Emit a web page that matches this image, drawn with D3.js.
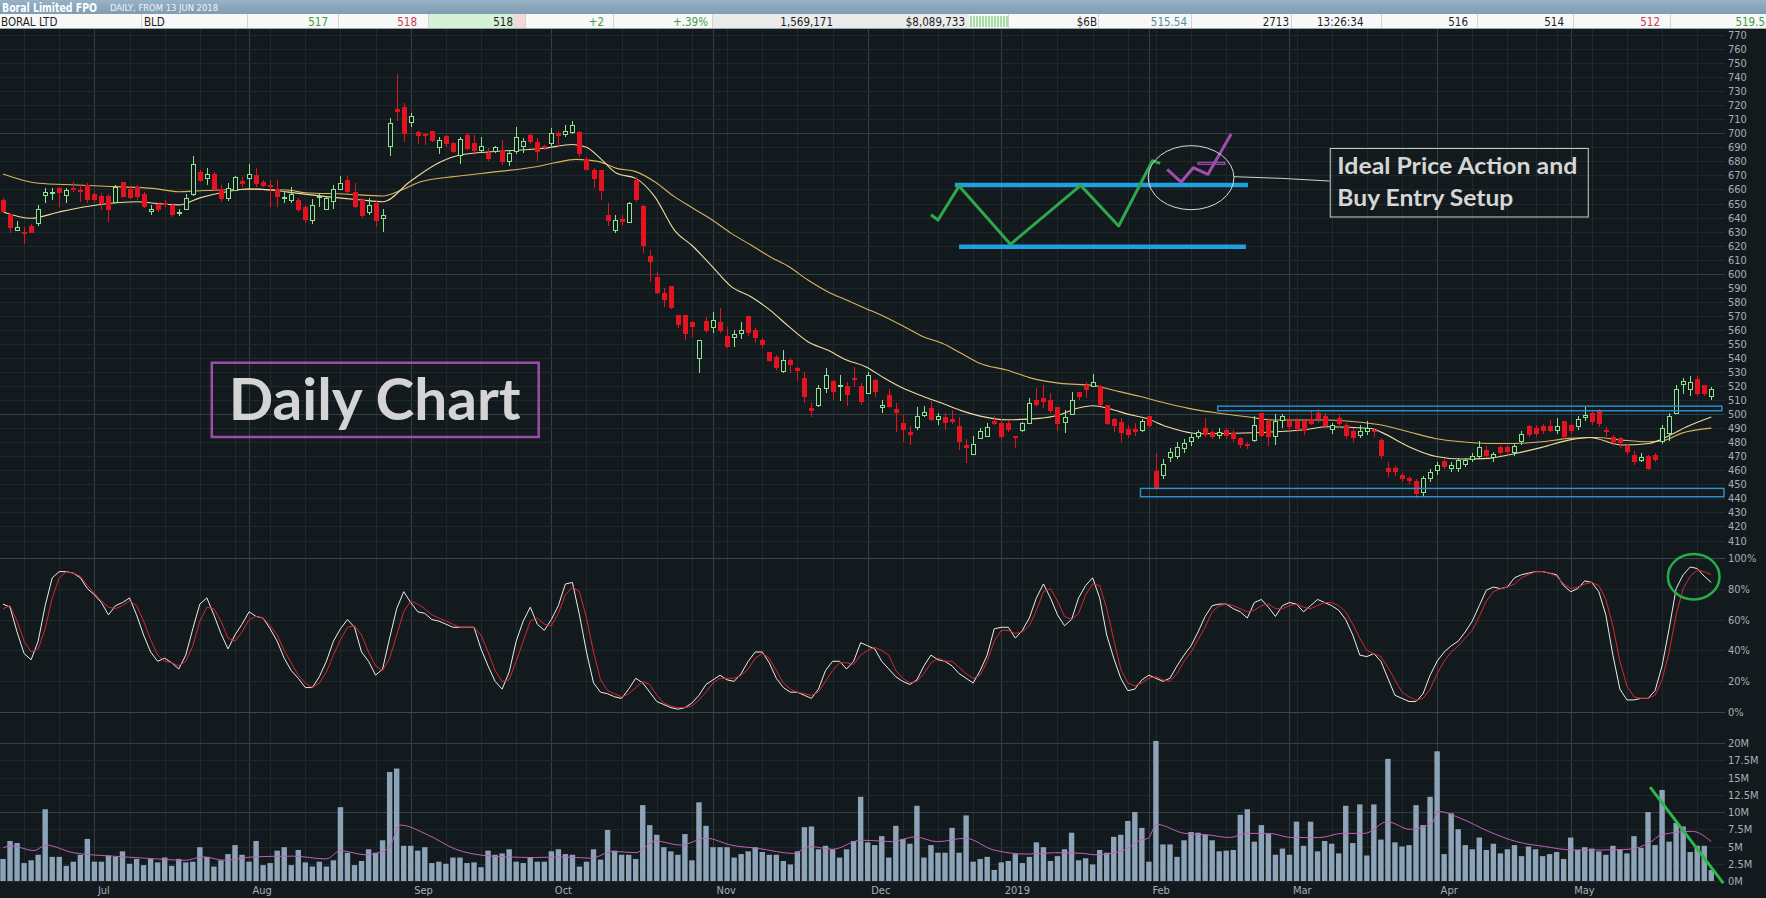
<!DOCTYPE html>
<html>
<head>
<meta charset="utf-8">
<script src="https://cdn.jsdelivr.net/npm/d3@7"></script>
<style>
  body { margin: 0; background: #131a1d; overflow: hidden; }
  svg { display: block; }
  .narrow { font-family: "Liberation Sans Narrow", "DejaVu Sans Condensed", "Roboto", sans-serif; }
</style>
</head>
<body>
<div id="main"></div>
<script>
// ---- data (bar index 0 = 13 Jun 2018, one bar per trading day) ----
const opens = [
652,642,631,629.5,633.5,636,656,657,660.6,655.6,
661,659.1,663,656.5,655.3,655.3,650.6,665.1,660.1,661.5,
656.7,644.2,649.4,650,648.4,643,645.8,656.5,671.9,667.9,
670.8,660.3,653.7,659.6,665.5,668,670,665.1,663,660.1,
653.9,651.8,652,647.2,638.2,654.4,645.8,651.3,660.1,666.7,
657.7,651.8,643.5,650.1,639.4,690.5,717,718.2,707.6,700.4,
698.8,701.1,689.7,697.6,692.4,684.5,698.1,692.8,688.1,685.7,
686.9,688.1,679.8,686.9,690.5,698.1,693.3,690.5,692.8,700,
698.8,700.4,700.9,681.4,673.8,673.4,641.8,630.6,638.7,636.3,
666.3,648.2,612.1,597.4,586,590.8,569.9,569.9,565.1,539.7,
565.8,561.8,565.1,555.6,554.7,557.1,569.4,559.9,552.3,543.7,
540.4,530.2,538.5,532.6,525.5,504.1,505.8,518.3,523.1,519.5,
520,525.5,520,514.8,523.8,504.8,513.6,503,493.4,486.8,
490.5,499,504.1,496.3,497.7,496.3,491.5,477.3,471.6,482.7,
483.9,494.6,493.4,493,484,488.2,493.4,510,511.2,510,
504.8,493.9,500,515.2,520.4,520,519.5,505.8,496.3,493.9,
489.1,489,488.6,498,459,456.6,469.2,470.1,475.6,480.4,
484.4,489.8,486.7,484.9,488.6,486.3,482.7,478.5,481.5,500.5,
494.6,484.4,495.3,494.6,494.6,494.6,496.2,500.5,498,489.1,
497,492.2,487.5,485.1,487.5,488.6,481.5,461.3,461.3,456.6,
454.2,451.8,444,454.2,459.7,466,461.3,461.3,464.4,467.8,
469.7,474.4,469.2,476.3,476,472.9,480.4,491,489.8,491.5,
491.5,488.2,494.6,492.2,491,497.7,500.5,501.7,488.6,483.4,
482.5,477.2,470.8,467.3,470.1,470.8,480.4,486.3,500.5,520.8,
517.6,524.7,520.7,512.9
];
const highs = [
653.7,642.5,637.8,633.5,635.4,648.9,660.8,660.8,662,660.8,
665.5,663.2,664.8,657.7,657.2,656.7,663.2,665.5,662,663.2,
658.4,648.9,650.6,652.5,650.1,645.8,656.7,683.8,673.8,675,
672.7,663.2,664.3,669.6,669.1,677.9,675,666.7,666.4,666.4,
658.4,661.5,653.7,648.9,652.9,657.2,655.3,663.2,669.6,669.6,
664.8,653.7,653.7,651.8,645.8,710.6,742.2,721.8,714.7,701.6,
700,701.9,697.6,698.8,694,697.6,700.4,698.8,697.1,689.3,
690.9,695.2,688.1,704.2,696.4,700.4,696.4,691.7,703.5,701.9,
705.9,708.7,701.6,682.9,675,673.8,650.1,641.8,641.8,651.3,
668.6,648.9,616.9,601.4,589.6,591.2,570.6,570.6,566.3,552.8,
569.4,573,575.3,562.3,559.9,565.8,569.9,561.1,554,543.7,
542.1,545.6,539.7,533.8,530.2,508.8,520.7,532.6,524.3,527.8,
523.1,533.8,521.9,530.2,524.8,510,517.6,507.6,499.3,491.5,
505.3,505.8,509.6,500.5,500.5,502.9,498.2,482,484.4,489.9,
493.4,498.6,496.3,495.8,484.4,494.6,511.2,518.3,520.7,514.8,
505.3,502.9,516,515.9,523.1,528.5,520.7,506.5,497,497,
492.2,493.4,496.3,499,472,468,476,480,482,486,
489,497,489,490,490,489,484,480,499,501,
497,500,500,499,497,496,502,504,501,494,
500,494,490,492,495,490,483,466,463,458,
456,454,456,461,466,468,466,469,469,472,
481,477,473,478,478,479,488,492,492,493,
496,497,495,494,499,505,502,504,491,485,
484,479,474,472,471,472,492,501,521,526,
527,527,521,519.5
];
const lows = [
643,629.2,630.5,621.1,628.7,634,650.1,652.5,647.7,650.6,
657.9,651.3,650.6,651.3,645.4,637.1,650.1,654.4,652.9,652.5,
646.5,641.8,644.2,647.7,640.6,641.1,645.4,655.3,665.5,663.2,
659.1,651.3,652,659.1,662,660.8,662,661.5,647.7,647.7,
650.1,650.6,644.2,635.9,635.4,647.7,645.4,645.8,659.6,656.7,
646.5,639.4,641.8,633,629.9,683.8,708.7,694,704.2,692.4,
691.7,694,685.2,690.5,685.7,678.1,688.1,684.5,685.7,680.5,
685.7,677.4,676.7,685.2,685.7,692.4,680.5,688.1,690.9,690.5,
697.6,699.5,682.9,673.8,660.8,652.5,634,628.7,634,635.9,
651.3,615,594.3,585.5,576,574.6,561.1,552.8,555.1,529.5,
557.5,557.5,557.5,546.8,547.5,553.2,555.6,550.4,546.8,537.3,
531.4,529.5,529,523.8,507.6,497.7,504.8,515.3,510,509.6,
505.8,519.5,506.5,514.3,511.9,500.5,504.1,487.5,480.4,478,
488.7,497.7,495.3,492.2,488.7,493,474.4,465.4,470.9,482,
483.4,492.2,482,487.5,475.6,487.5,493,505.3,504.1,500.5,
488.2,486.3,499.3,510,511.2,519.5,505.8,492.2,487.5,480.4,
482.7,484.4,487,490,446,454,466,468,472,477,
482,484,482,482,482,480,476,475,480,484,
477,478,490,488,487,485,492,494,490,486,
490,482,480,483,485,484,468,455,456,452,
450,440,442,452,457,461,459,459,462,466,
468,469,466,470,471,470,478,484,484,486,
487,486,482,486,489,495,492,491,484,477,
476,471,464,466,460,466,479,481,500,514,
513,513,513,510
];
const closes = [
644,633,633,628.5,629.4,645.8,658,657.5,657.9,659.1,
660.3,658.4,652.5,652.9,650.1,645.8,661.5,655.3,654.1,654.9,
647.7,645.8,645.8,649,642.3,643.5,653.7,677.9,666.7,670.8,
660.1,653.7,660.8,668.6,664.3,670.8,664.3,662.7,662.7,654.9,
654.4,656.7,645.8,638.9,648.9,654.9,653.7,660.3,663.9,658.4,
648.2,641.8,648.9,638.2,641.4,707.1,715.4,699.5,712.3,698.1,
698.1,695.2,695.2,692.4,686.9,695.7,689.3,688.1,690.5,682.2,
690,679.8,685.7,697.1,694,694.5,686.9,690,699.9,698.3,
701.1,705.2,685.7,674.3,667.9,659.6,638.2,638.2,637.1,650.1,
653,620.4,608.6,586.5,581.3,576,563.5,557.5,562.3,552.3,
559.9,567,559.9,548.5,556.8,559.9,558,554.7,549.9,538,
533.3,538.5,535,531.4,512.4,502.4,518.3,527.8,515.9,520.2,
514.3,524.8,508.8,527.8,515.9,505.8,505.3,501,488.7,485.8,
498.6,501,496,498.2,494,494.6,480.4,476.3,478.7,487.5,
490.5,493,483.9,488.7,483.5,493,507.6,507.2,508.8,502.4,
493,497.9,509.6,512.9,517.6,522.3,507.2,493.4,492.2,486.8,
485.8,487.5,494.6,492.2,447,464.4,472.5,476.3,479.1,483.4,
486.7,485.8,484.4,487,485.1,482.7,478.7,478,492.2,485,
483.9,494.6,498.1,491,489.8,488.6,493.4,497,492.2,492.2,
493.4,485,483.4,487.5,489.8,487.5,470.8,459,459,454.2,
452.6,443.5,454,458.3,463.7,463,463.7,467.3,466.8,469.7,
476.3,470.8,471.3,472.5,473.2,477.2,485.8,485.8,486.3,488.2,
488.2,491.5,483.9,488.2,496.2,499.3,494.6,493.4,487.5,480.4,
479.5,473.2,466,469.2,461.3,467.8,489.8,498.1,517.6,523.1,
522.3,514.8,514.8,517.6
];
// volume, millions of shares
const volumes = [
3.2,5.8,5.5,2.6,3.0,3.8,10.4,3.5,3.5,2.2,2.8,3.8,6.1,
2.8,2.8,3.7,3.5,4.3,2.5,3.2,2.3,3.2,2.7,3.4,2.2,3.2,2.7,2.8,4.9,3.5,2.1,3.0,3.9,5.2,3.8,2.8,5.8,2.3,2.6,4.4,4.9,2.3,4.5,2.7,2.1,2.8,2.1,3.0,
10.7,4.1,2.3,2.9,4.6,4.1,5.9,15.8,16.3,
5.1,5.1,4.4,4.9,2.6,2.8,2.5,3.4,3.4,2.6,2.7,2.0,4.4,3.8,4.0,4.6,2.8,2.6,3.4,2.8,2.8,4.3,4.6,3.9,3.8,2.1,2.8,4.6,3.1,
7.4,4.4,3.8,3.8,3.2,
11.0,8.1,6.7,4.9,4.3,3.8,6.8,3.0,11.4,8.0,4.9,4.9,4.9,3.4,3.9,4.3,4.9,4.2,3.8,3.8,2.9,2.4,4.3,7.8,7.9,4.6,5.1,4.6,3.4,4.6,5.8,12.2,5.6,5.2,
6.5,3.4,8.0,6.1,5.4,10.9,3.4,5.2,4.1,4.1,7.7,4.1,9.5,2.8,3.2,3.5,1.6,2.7,2.9,3.9,2.6,3.5,5.6,4.9,2.9,3.6,4.6,7.0,3.0,3.3,
2.4,4.5,4.1,6.4,6.7,8.7,10.0,7.7,2.8,20.3,5.3,5.3,3.5,5.9,7.1,7.0,6.7,5.9,4.3,4.4,4.5,9.6,10.4,5.7,8.1,6.8,3.8,4.7,3.8,8.6,
5.1,8.6,4.3,5.8,5.4,
4.0,10.9,5.5,11.1,3.7,11.1,6.0,17.7,5.6,5.0,5.2,11.0,8.1,12.2,18.8,3.9,9.8,7.5,5.2,4.6,6.3,4.5,5.4,4.0,4.6,5.2,3.6,5.0,4.6,3.6,
3.9,4.2,3.2,6.3,4.5,4.9,4.7,4.3,
3.8,5.1,4.6,4.0,6.5,4.8,10.0,5.2,13.2,5.7,8.4,7.9,4.2,5.1,5.1,1.6
];
// stochastic %K (white) and %D (red), percent
const stochK = [
70,68,52,38,34,46,69,87,91,91, 90,87,80,76,71,63,69,71,74,63,
50,39,33,35,32,28,37,54,70,74, 63,51,41,50,57,65,62,61,54,46,
35,27,22,16,16,23,33,46,54,60, 55,39,33,24,28,48,67,78,71,65,
64,60,59,57,55,55,55,55,41,30, 20,15,26,46,59,68,57,53,60,69,
83,84,63,39,19,13,12,10,9,15, 22,19,13,7,5,3,2,3,6,11,
18,21,24,21,20,25,33,39,39,32, 22,16,13,13,11,9,15,27,33,33,
28,33,45,43,41,
33,28,23,20,18,21,30,37,34,33, 30,25,22,19,27,37,54,55,55,48,
53,61,74,83,74,63,56,60,74,82, 87,74,50,35,22,14,15,21,24,22,
20,22,30,37,43,52,62,69,70,70, 67,65,61,71,73,68,62,69,71,70,
65,69,73,71,69,66,60,50,37,36, 38,33,22,11,9,7,7,12,24,33,
39,43,46,52,59,69,79,81,80,81, 87,89,90,91,91,90,89,82,78,80,
85,84,78,63,37,15,8,8,9,9, 14,30,54,80,89,94,93,88,84
];
const stochD = [
67,69,59,46,39,41,54,74,87,91, 90,88,82,77,72,68,67,69,72,69,
59,47,37,33,32,30,33,43,59,68, 67,59,48,46,52,60,62,61,56,50,
40,32,24,19,16,19,26,37,47,55, 56,50,39,30,27,35,50,65,72,70,
67,63,61,59,57,55,55,55,50,39, 27,20,21,33,46,59,61,57,56,64,
76,81,78,61,39,21,14,12,10,12, 16,20,18,11,6,4,3,3,4,8,
13,19,22,22,22,24,28,35,38,35, 27,19,15,13,12,11,13,20,27,32,
32,31,37,40,42,
40,37,27,22,19,20,25,32,35,33, 33,29,25,22,24,33,46,53,53,51,
52,56,66,78,80,72,62,60,64,76, 83,82,67,47,28,19,17,19,22,23,
21,20,25,33,39,47,55,65,69,70, 69,67,65,66,69,70,67,67,69,70,
68,67,69,71,71,69,65,57,48,40, 38,36,29,21,13,10,8,9,15,25,
33,39,43,48,53,62,72,78,80,81, 83,87,89,91,91,90,88,83,80,81,
83,84,82,73,56,33,17,10,9,9, 11,21,39,63,80,88,92,91,89
];
// moving averages: [bar index, value]
const maFast = [
[0,644],[4,639.5],[8,644],[11.5,647.5],[15,650],[19,651.3],[22,650],[25,649],[28,654],[32,658.5],
[35,660.5],[38,659.6],[42,657.2],[46,654.9],[51,652.5],[54,651.3],[58,666],[62,679],[65,684.5],[70,687],
[77,689.3],[81,692],[83,690],[85,682],[87.3,671.5],[90,667.9],[92.7,654.9],[95.5,631.1],[98.2,619.2],[100.9,605],
[103.6,590.8],[106.4,583.6],[109.1,574.1],[111.8,562.3],[114.5,551.6],[117.3,545.6],[120,538.5],[122.7,533.8],[125.4,525.5],[128.2,518],
[131,512.4],[133.6,507.7],[136.3,502.5],[139,498.6],[142.8,496],[147.4,497],[150,499],[152.7,504],[155,506],[158,503],
[160,500],[162.6,497],[165.6,491],[170.2,486],[177.8,486.7],[185.4,489.1],[188.5,491],[194.6,489.8],[196.1,487],[199.9,477],
[203.7,470],[207.5,468],[211.3,468.5],[215.1,472],[218.9,476.3],[222.7,481.5],[225.7,483.4],[230.3,478],[234.1,479.1],[237.2,485.1],
[239.5,491],[243,498]
];
const maSlow = [
[0,671],[5,664.4],[10.5,663.2],[16,662],[21.3,660.8],[25,658.4],[28,659.1],[35,660],[40.4,659.6],[43,657.7],
[48.6,656.8],[54,655.3],[56.7,659.6],[59.4,665.5],[64.9,669.6],[70.3,672.7],[75.8,676.2],[78.5,679],[81.5,681.4],[84.6,680],
[87.3,675],[90,672.7],[92.7,665.5],[95.5,654.9],[98.2,646.5],[100.9,638.2],[103.6,628.7],[106.4,620.4],[109.1,612.1],[111.8,605],
[114.5,595.5],[117.3,587.2],[120,581.2],[122.7,575.3],[125.4,569.4],[128.2,562.3],[130.9,555.1],[133.6,550.4],[136.3,543.3],[139,536.1],
[142.8,531.4],[146,526],[150.4,521.9],[155,520.5],[158,517],[161.8,512.5],[165.6,507.6],[169.4,503.4],[173.2,500.5],[177,498.1],
[180.8,495.8],[188.5,495.8],[192.3,494.6],[196.1,492.2],[199.9,487.5],[203.7,482.7],[207.5,480.3],[211.3,479.1],[215.1,479.1],[218.9,480.3],
[222.7,482.7],[226.5,483.4],[230.3,481.5],[234.1,480.3],[236.4,481.5],[238.7,486.3],[243,490]
];
const volMA = [
[0,4.8],[1.2,5.1],[4.4,4.4],[6.1,5.2],[10,4.1],[15.6,3.6],[20.4,3.3],[26,3.0],[28.4,3.5],[31.6,3.0],
[35.6,3.5],[41.2,3.6],[46,3.2],[48,4.4],[51.6,3.8],[54.8,4.7],[56.5,8.1],[60.4,6.7],[64.4,4.6],[68.4,3.7],
[71.6,3.5],[75.6,3.4],[79.6,3.5],[83.6,3.3],[86.8,4.3],[90,4.1],[92.8,5.8],[96.4,5.2],[100,6.2],[103.6,5.2],
[107.6,4.7],[112.4,4.0],[114.8,5.0],[118,4.6],[122,5.9],[124.8,5.8],[126.5,5.7],[129.7,6.4],[132.9,5.7],[136.9,6.2],
[140.9,4.5],[145.7,3.9],[149.7,4.1],[153.7,4.0],[155.3,3.8],[159.3,4.4],[161.7,5.9],[162.9,6.2],[164.1,8.2],[168.1,6.9],
[171.3,6.7],[174.5,6.3],[176.9,6.9],[180.1,6.9],[183.3,6.3],[187.3,6.3],[190.5,6.9],[193.7,6.9],[196.9,8.6],[200.1,7.5],
[203.3,8.4],[204.1,10.1],[207.3,9.1],[211.3,7.2],[215.3,5.7],[219.3,5.0],[223.3,4.5],[227.3,4.5],[231.3,4.6],[234.3,5.6],
[235.9,6.7],[240.3,7.2],[243,5.7]
];

const monthLabels = ['Jul','Aug','Sep','Oct','Nov','Dec','2019','Feb','Mar','Apr','May'];
const monthBars   = [13, 35, 58, 78, 101, 123, 142, 163, 183, 204, 223];
const weekBars = [3,8,18,23,28,33,38,43,48,53,63,68,73,83,88,93,98,103,108,113,118,128,133,138,
                  145,150,155,160,164,169,174,179,184,189,194,199,209,214,218,221,226,231,236,241];
const priceTicks = [410,420,430,440,450,460,470,480,490,500,510,520,530,540,550,560,570,580,590,
                    600,610,620,630,640,650,660,670,680,690,700,710,720,730,740,750,760,770];
const stochTicks = [0, 20, 40, 60, 80, 100];
const volTicks = [0, 2.5, 5, 7.5, 10, 12.5, 15, 17.5, 20];

const titleText = 'Boral Limited FPO';
const subtitleText = 'DAILY, FROM 13 JUN 2018';
const quoteValues = ['BORAL LTD','BLD','517','518','518','+2','+.39%','1,569,171','$8,089,733',
                     '$6B','515.54','2713','13:26:34','516','514','512','519.5'];

document.addEventListener('DOMContentLoaded', () => {
  const W = 1766, H = 898, plotR = 1725;
  const bg = '#131a1d';

  const svg = d3.select('#main').append('svg')
    .attr('width', W).attr('height', H).attr('viewBox', [0, 0, W, H]);

  const last = closes.length - 1;
  const x  = d3.scaleLinear().domain([0, last]).range([3, 3 + 7.03 * last]);
  const yP = d3.scaleLinear().domain([410, 770]).range([540.5, 35]);
  const yS = d3.scaleLinear().domain([0, 100]).range([712.3, 557.7]);
  const yV = d3.scaleLinear().domain([0, 20]).range([881, 743]);

  svg.append('rect').attr('width', W).attr('height', H).attr('fill', bg);

  const defs = svg.append('defs');
  const clip = (id, y0, y1) => defs.append('clipPath').attr('id', id)
    .append('rect').attr('x', 0).attr('y', y0).attr('width', plotR).attr('height', y1 - y0);
  clip('cp', 29, 557);
  clip('cs', 557, 720);
  clip('cv', 720, 882);

  // ---- grid ----
  const grid = svg.append('g').attr('shape-rendering', 'crispEdges');
  const faint = '#1f292c', strong = '#343f43';
  grid.selectAll('.wk').data(weekBars).join('line')
    .attr('x1', d => Math.round(x(d)) + 0.5).attr('x2', d => Math.round(x(d)) + 0.5)
    .attr('y1', 29).attr('y2', 881).attr('stroke', faint);
  grid.selectAll('.mo').data(monthBars).join('line')
    .attr('x1', d => Math.round(x(d)) + 0.5).attr('x2', d => Math.round(x(d)) + 0.5)
    .attr('y1', 29).attr('y2', 881).attr('stroke', strong);
  grid.selectAll('.hp').data(priceTicks).join('line')
    .attr('x1', 0).attr('x2', plotR)
    .attr('y1', d => Math.round(yP(d)) + 0.5).attr('y2', d => Math.round(yP(d)) + 0.5)
    .attr('stroke', d => d % 100 === 0 ? strong : faint);
  grid.selectAll('.hs').data(stochTicks).join('line')
    .attr('x1', 0).attr('x2', plotR)
    .attr('y1', d => Math.round(yS(d)) + 0.5).attr('y2', d => Math.round(yS(d)) + 0.5)
    .attr('stroke', d => (d === 0 || d === 100) ? '#3b474a' : faint);
  grid.selectAll('.hv').data(volTicks).join('line')
    .attr('x1', 0).attr('x2', plotR)
    .attr('y1', d => Math.round(yV(d)) + 0.5).attr('y2', d => Math.round(yV(d)) + 0.5)
    .attr('stroke', d => (d === 20 || d === 10) ? strong : faint);

  // ---- axes ----
  const axisStyle = g => {
    g.select('.domain').remove();
    g.selectAll('line').remove();
    g.selectAll('text').attr('fill', '#a7b0b4').attr('font-size', 11)
      .attr('class', 'narrow').attr('font-family', null);
  };
  svg.append('g').attr('transform', `translate(${plotR + 3},0)`)
    .call(d3.axisRight(yP).tickValues(priceTicks).tickSize(0).tickPadding(0)).call(axisStyle);
  svg.append('g').attr('transform', `translate(${plotR + 3},0)`)
    .call(d3.axisRight(yS).tickValues(stochTicks).tickSize(0).tickPadding(0)
      .tickFormat(d => d + '%')).call(axisStyle);
  svg.append('g').attr('transform', `translate(${plotR + 3},0)`)
    .call(d3.axisRight(yV).tickValues(volTicks).tickSize(0).tickPadding(0)
      .tickFormat(d => d + 'M')).call(axisStyle);
  svg.append('g').attr('transform', 'translate(0,884)')
    .call(d3.axisBottom(x).tickValues(monthBars).tickSize(0).tickPadding(2)
      .tickFormat((d, i) => monthLabels[i])).call(axisStyle)
    .selectAll('text').attr('text-anchor', 'start').attr('dx', 3);

  // ---- price panel ----
  const bars = closes.map((c, i) => ({ i, o: opens[i], h: highs[i], l: lows[i], c }));
  const pg = svg.append('g').attr('clip-path', 'url(#cp)');
  const up = '#8ee48e', dn = '#e3141f';

  pg.append('path').datum(maSlow).attr('fill', 'none').attr('stroke', '#d9b25e').attr('stroke-width', 1.1)
    .attr('d', d3.line().x(d => x(d[0])).y(d => yP(d[1])).curve(d3.curveMonotoneX));
  pg.append('path').datum(maFast).attr('fill', 'none').attr('stroke', '#eedca2').attr('stroke-width', 1.1)
    .attr('d', d3.line().x(d => x(d[0])).y(d => yP(d[1])).curve(d3.curveMonotoneX));

  const cg = pg.append('g').attr('shape-rendering', 'crispEdges');
  cg.selectAll('line').data(bars).join('line')
    .attr('x1', d => Math.round(x(d.i)) + 0.5).attr('x2', d => Math.round(x(d.i)) + 0.5)
    .attr('y1', d => yP(d.h)).attr('y2', d => yP(d.l))
    .attr('stroke', d => d.c >= d.o ? up : dn);
  cg.selectAll('rect').data(bars).join('rect')
    .attr('x', d => Math.round(x(d.i)) - 2 + 0.5)
    .attr('width', 4)
    .attr('y', d => yP(Math.max(d.o, d.c)))
    .attr('height', d => Math.max(1, Math.abs(yP(d.o) - yP(d.c))))
    .attr('fill', d => d.c >= d.o ? bg : dn)
    .attr('stroke', d => d.c >= d.o ? up : dn);

  // ---- stochastic panel ----
  const sg = svg.append('g').attr('clip-path', 'url(#cs)');
  sg.append('path').datum(stochK).attr('fill', 'none').attr('stroke', '#ececec').attr('stroke-width', 1)
    .attr('d', d3.line().x((d, i) => x(i)).y(d => yS(d)));
  sg.append('path').datum(stochD).attr('fill', 'none').attr('stroke', '#d8262c').attr('stroke-width', 1)
    .attr('d', d3.line().x((d, i) => x(i)).y(d => yS(d)));

  // ---- volume panel ----
  const vg = svg.append('g').attr('clip-path', 'url(#cv)');
  vg.selectAll('rect').data(volumes).join('rect')
    .attr('x', (d, i) => x(i) - 2.7).attr('width', 5.4)
    .attr('y', d => yV(d)).attr('height', d => yV(0) - yV(d))
    .attr('fill', '#8da3b7');
  vg.append('path').datum(volMA).attr('fill', 'none').attr('stroke', '#c25fb8').attr('stroke-width', 1)
    .attr('d', d3.line().x(d => x(d[0])).y(d => yV(d[1])).curve(d3.curveMonotoneX));

  // ---- hand-drawn annotations (bar index / price units) ----
  const ag = svg.append('g');
  const pline = d3.line().x(d => x(d[0])).y(d => yP(d[1]));
  const blue = '#1fa0e0';

  // support / resistance zone boxes
  [[172.8, 244.5, 502.4, 505.7], [161.8, 244.8, 441.2, 447.1]].forEach(([a, b, lo, hi]) => {
    ag.append('rect').attr('x', x(a)).attr('width', x(b) - x(a))
      .attr('y', yP(hi)).attr('height', yP(lo) - yP(hi))
      .attr('fill', 'none').attr('stroke', '#2a95d6').attr('stroke-width', 1.4);
  });

  // idealised range sketch
  [[135.4, 177.1, 663.2], [136, 176.8, 619.2]].forEach(([a, b, p]) => {
    ag.append('line').attr('x1', x(a)).attr('x2', x(b)).attr('y1', yP(p)).attr('y2', yP(p))
      .attr('stroke', blue).attr('stroke-width', 4.5);
  });
  ag.append('path').attr('d', pline([[132, 642], [133, 638.2], [136, 662.5], [143.3, 620.9], [153.3, 662.9],
      [158.7, 634], [163.5, 680.5], [164.6, 678.6]]))
    .attr('fill', 'none').attr('stroke', '#2fa84c').attr('stroke-width', 3).attr('stroke-linejoin', 'round');
  ag.append('path').attr('d', pline([[165.6, 674.3], [167.6, 665.3], [169.3, 675.5], [171.4, 670.8], [174.7, 699.5]]))
    .attr('fill', 'none').attr('stroke', '#a24cb0').attr('stroke-width', 3).attr('stroke-linejoin', 'round');
  ag.append('rect').attr('x', x(170)).attr('width', x(173.8) - x(170))
    .attr('y', yP(679.3)).attr('height', yP(677.9) - yP(679.3))
    .attr('fill', 'none').attr('stroke', '#a24cb0').attr('stroke-width', 1.2);
  ag.append('ellipse').attr('cx', x(169)).attr('cy', yP(668.4))
    .attr('rx', x(6.1) - x(0)).attr('ry', yP(0) - yP(22.8))
    .attr('fill', 'none').attr('stroke', '#d8d8d8').attr('stroke-width', 1);
  ag.append('path').attr('d', pline([[175.1, 669.1], [181.9, 667.9], [188.7, 666]]))
    .attr('fill', 'none').attr('stroke', '#cfcfcf').attr('stroke-width', 1);

  // callout box
  ag.append('rect').attr('x', x(188.8)).attr('width', x(225.5) - x(188.8))
    .attr('y', yP(689.2)).attr('height', yP(640.4) - yP(689.2))
    .attr('fill', 'none').attr('stroke', '#cfcfcf').attr('stroke-width', 1);
  const callout = ['Ideal Price Action and', 'Buy Entry Setup'];
  const calloutLen = [240, 176];
  [671, 648.2].forEach((p, k) => {
    ag.append('text').attr('x', x(189.8)).attr('y', yP(p))
      .attr('font-family', 'Lato, "Open Sans", sans-serif').attr('font-weight', 700)
      .attr('font-size', 23).attr('fill', '#d6d6d6')
      .attr('textLength', calloutLen[k]).attr('lengthAdjust', 'spacingAndGlyphs')
      .text(callout[k]);
  });

  // "Daily Chart" label
  ag.append('rect').attr('x', x(29.7)).attr('width', x(76.2) - x(29.7))
    .attr('y', yP(536.6)).attr('height', yP(483.7) - yP(536.6))
    .attr('fill', 'none').attr('stroke', '#9c4ea4').attr('stroke-width', 2.5);
  ag.append('text').attr('x', x(32.1)).attr('y', yP(495.8))
    .attr('font-family', 'Lato, "Open Sans", sans-serif').attr('font-weight', 700)
    .attr('font-size', 58).attr('fill', '#d4d4d4')
    .attr('textLength', 292).attr('lengthAdjust', 'spacingAndGlyphs')
    .text('Daily Chart');

  // stochastic ring and volume trend line
  ag.append('ellipse').attr('cx', x(240.5)).attr('cy', yS(87.7))
    .attr('rx', x(3.67) - x(0)).attr('ry', yS(0) - yS(14.7))
    .attr('fill', 'none').attr('stroke', '#24ad48').attr('stroke-width', 2.5);
  ag.append('line').attr('x1', x(234.3)).attr('y1', yV(13.6)).attr('x2', x(244.7)).attr('y2', yV(-0.3))
    .attr('stroke', '#2fb54c').attr('stroke-width', 3);

  // ---- header ----
  const hd = svg.append('g');
  const grad = defs.append('linearGradient').attr('id', 'hg').attr('x1', 0).attr('x2', 0).attr('y1', 0).attr('y2', 1);
  grad.append('stop').attr('offset', 0).attr('stop-color', '#98b2c6');
  grad.append('stop').attr('offset', 1).attr('stop-color', '#7f9cb2');
  hd.append('rect').attr('width', W).attr('height', 14).attr('fill', 'url(#hg)');
  hd.append('text').attr('class', 'narrow').attr('x', 2).attr('y', 11.5)
    .attr('font-size', 12.5).attr('font-weight', 700).attr('fill', '#ffffff')
    .attr('textLength', 95).attr('lengthAdjust', 'spacingAndGlyphs').text(titleText);
  hd.append('text').attr('class', 'narrow').attr('x', 110).attr('y', 11)
    .attr('font-size', 8).attr('fill', '#eef3f7')
    .attr('textLength', 108).attr('lengthAdjust', 'spacingAndGlyphs').text(subtitleText);

  hd.append('rect').attr('y', 14).attr('width', W).attr('height', 15).attr('fill', '#f8f8f8');
  hd.append('rect').attr('x', 428).attr('y', 14).attr('width', 86).attr('height', 15).attr('fill', '#d5f1d6');
  hd.append('rect').attr('x', 514).attr('y', 14).attr('width', 11).attr('height', 15).attr('fill', '#f5d7da');
  hd.append('rect').attr('x', 712).attr('y', 14).attr('width', 257).attr('height', 15).attr('fill', '#ebebeb');
  hd.append('g').selectAll('rect').data(d3.range(13)).join('rect')
    .attr('x', d => 970 + d * 3).attr('y', 16).attr('width', 2).attr('height', 11).attr('fill', '#a6dca6');
  hd.append('g').attr('shape-rendering', 'crispEdges').selectAll('line')
    .data([141, 247, 338, 428, 525, 613, 712, 1008, 1098, 1191, 1291, 1381, 1477, 1573, 1670]).join('line')
    .attr('x1', d => d + 0.5).attr('x2', d => d + 0.5).attr('y1', 14).attr('y2', 29).attr('stroke', '#d3d3d3');
  hd.append('line').attr('x1', 0).attr('x2', W).attr('y1', 28.5).attr('y2', 28.5).attr('stroke', '#9aa6ad');

  const green = '#3e9e3e', red = '#c2404c', ink = '#1e1e1e';
  const quoteLayout = [
    [1, 'start', ink], [144, 'start', ink], [328, 'end', green], [417, 'end', red], [513, 'end', ink],
    [604, 'end', green], [708, 'end', green], [833, 'end', ink], [965, 'end', ink], [1097, 'end', ink],
    [1187, 'end', '#4f8c9c'], [1289, 'end', ink], [1317, 'start', ink], [1468, 'end', ink],
    [1564, 'end', ink], [1660, 'end', red], [1765, 'end', green]
  ];
  hd.append('g').selectAll('text').data(quoteValues).join('text')
    .attr('class', 'narrow')
    .attr('x', (d, i) => quoteLayout[i][0]).attr('y', 25.5)
    .attr('text-anchor', (d, i) => quoteLayout[i][1])
    .attr('fill', (d, i) => quoteLayout[i][2])
    .attr('font-size', 11.5)
    .text(d => d);
});
</script>
</body>
</html>
